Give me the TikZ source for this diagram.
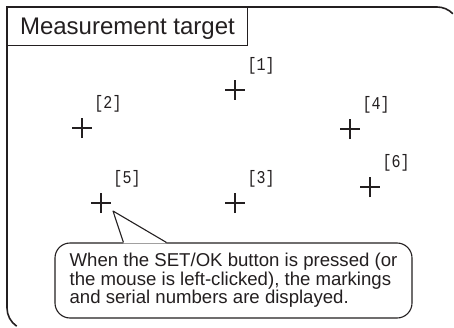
\documentclass[tikz,border=0pt]{standalone}
\usepackage{fontspec}
\setmainfont{Liberation Sans}
\newfontfamily\numfont{Liberation Mono}
\definecolor{ink}{HTML}{231F20}
\tikzset{
    outerframe/.style={draw=ink, line width=1.6pt},
    titlebox/.style={draw=ink, line width=0.9pt, minimum width=240pt, minimum height=38pt,
        text depth=0pt, inner sep=0pt, font=\fontsize{24}{26}\selectfont, text=ink},
    marker/.style={draw=ink, line width=1.2pt},
    numlabel/.style={inner sep=0pt, text=ink, font=\numfont\fontsize{15}{16}\selectfont},
    note/.style={draw=ink, line width=1.1pt, rounded corners=15pt, fill=white, align=left,
        minimum width=357pt, minimum height=75pt, inner sep=0pt, text=ink,
        font=\fontsize{18.6}{18.5}\selectfont},
}
\begin{document}
\begin{tikzpicture}[x=1pt, y=1pt]
    \useasboundingbox (0,0) rectangle (454,327);
    % outer frame, runs off the page at right and bottom
    \draw[outerframe] (16.7,0.8) arc[start angle=236, end angle=180, radius=22]
        -- (7,320) -- (437,320) arc[start angle=90, end angle=44, radius=22];
    \node[titlebox, anchor=north west] (title) at (7,320) {Measurement target};
    % markings and serial numbers
    \foreach \n/\x/\y in {1/235/237, 2/82/199, 3/235/124, 4/350/198, 5/101/124, 6/370/140} {
        \coordinate (c\n) at (\x,\y);
        \draw[marker] ([xshift=-10pt]c\n) -- ([xshift=10pt]c\n);
        \draw[marker] ([yshift=-10pt]c\n) -- ([yshift=10pt]c\n);
        \node[numlabel] (l\n) at ([xshift=26pt,yshift=24pt]c\n) {\scalebox{1}[1.2]{[\n]}};
    }
    % callout
    \node[note] (note) at (233.5,46.5) {When the SET/OK button is pressed (or\\
        the mouse is left-clicked), the markings\\
        and serial numbers are displayed.};
    \coordinate (tip) at (113,116);
    \coordinate (b1) at ([xshift=69pt]note.north west);
    \coordinate (b2) at ([xshift=112pt]note.north west);
    \fill[white] ([yshift=-0.8pt]b1) -- (tip) -- ([yshift=-0.8pt]b2) -- cycle;
    \draw[ink, line width=1.1pt, line join=round] (b1) -- (tip) -- (b2);
\end{tikzpicture}
\end{document}
